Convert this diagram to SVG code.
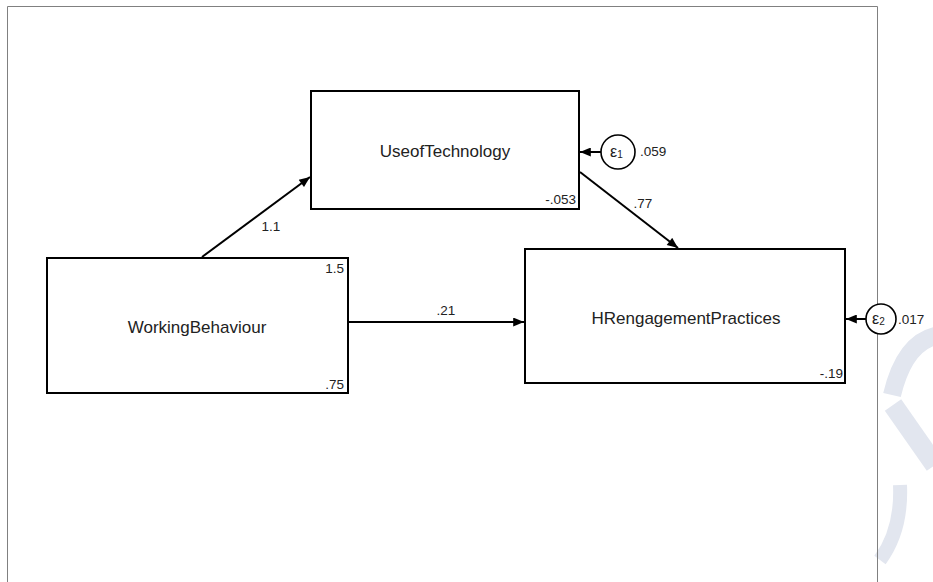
<svg xmlns="http://www.w3.org/2000/svg" width="933" height="582" viewBox="0 0 933 582">
<style>
.box{fill:#fff;stroke:#000;stroke-width:2}
.err{fill:#fff;stroke:#000;stroke-width:1.6}
.lbl{font-family:"Liberation Sans",Arial,sans-serif;font-size:17px;fill:#222;text-anchor:middle}
.num{font-family:"Liberation Sans",Arial,sans-serif;font-size:13.5px;fill:#222}
.eps{font-family:"Liberation Sans",Arial,sans-serif;font-size:16px;fill:#222}
.edge{stroke:#000;stroke-width:2;fill:none;marker-end:url(#ah)}
.wm{fill:none;stroke:#e2e6ef;stroke-linecap:butt}
</style>
<defs>
<marker id="ah" viewBox="0 0 12 10" refX="12" refY="5" markerWidth="12" markerHeight="9" markerUnits="userSpaceOnUse" orient="auto">
<path d="M0,0 L12,5 L0,10 z" fill="#000"/>
</marker>
</defs>
<rect width="933" height="582" fill="#fff"/>
<g id="watermark">
<path class="wm" stroke-width="18" d="M940 335 Q905 340 892 395"/>
<path class="wm" stroke-width="20" d="M893 405 L935 465"/>
<path class="wm" stroke-width="14" d="M900 485 Q902 530 880 560"/>
</g>
<g id="frame">
<path d="M7.5 582 V6.5 H877.5 V582" fill="none" stroke="#808080" stroke-width="1"/>
</g>
<g id="connectors">
<line class="edge" x1="202" y1="257" x2="310" y2="177"/>
<text class="num" x="271" y="231" text-anchor="middle">1.1</text>
<line class="edge" x1="348" y1="322" x2="524" y2="322"/>
<text class="num" x="446" y="315" text-anchor="middle">.21</text>
<line class="edge" x1="580" y1="172" x2="678" y2="248"/>
<text class="num" x="643" y="208" text-anchor="middle">.77</text>
<line class="edge" x1="601" y1="152" x2="580" y2="152"/>
<line class="edge" x1="866" y1="319" x2="846" y2="319"/>
</g>
<g id="UseofTechnology">
<rect class="box" x="311" y="91" width="268" height="118"/>
<text class="lbl" x="445" y="157">UseofTechnology</text>
<text class="num" x="576" y="204" text-anchor="end">-.053</text>
</g>
<g id="WorkingBehaviour">
<rect class="box" x="47" y="258" width="301" height="135"/>
<text class="lbl" x="197" y="333">WorkingBehaviour</text>
<text class="num" x="344" y="273" text-anchor="end">1.5</text>
<text class="num" x="344" y="389" text-anchor="end">.75</text>
</g>
<g id="HRengagementPractices">
<rect class="box" x="525" y="249" width="320" height="134"/>
<text class="lbl" x="686" y="324">HRengagementPractices</text>
<text class="num" x="843" y="378" text-anchor="end">-.19</text>
</g>
<g id="e1">
<circle class="err" cx="618" cy="152" r="17"/>
<text class="eps" x="610" y="157">ε<tspan font-size="10" dy="1">1</tspan></text>
<text class="num" x="640" y="156">.059</text>
</g>
<g id="e2">
<circle class="err" cx="881" cy="319" r="15"/>
<text class="eps" x="872" y="324">ε<tspan font-size="10" dy="1">2</tspan></text>
<text class="num" x="898" y="324">.017</text>
</g>
</svg>
